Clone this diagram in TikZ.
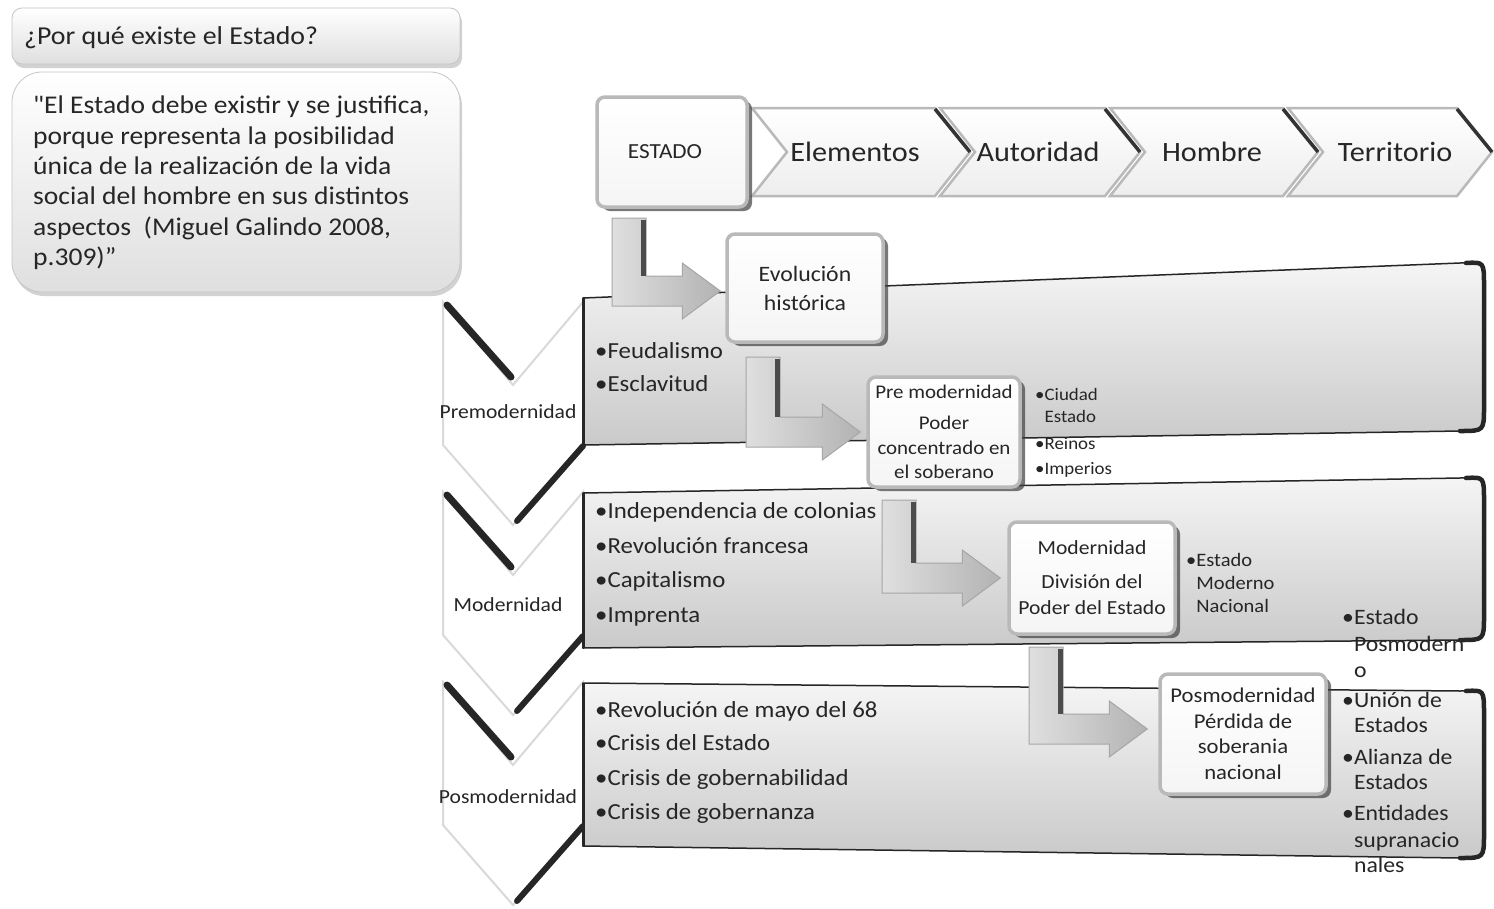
\documentclass[tikz,border=0pt]{standalone}
\usepackage{fontspec}
\setmainfont{Carlito}[FakeStretch=1.08]
\usetikzlibrary{shadows,calc}
\newcommand{\myfs}[2]{\fontsize{#1}{#2}\selectfont}
\newcommand{\bandshape}[4]{%
  \path[band] (583,#3) -- (583,#1) -- (1460,{#2+1}) .. controls (1484,#2) .. (1484,{#2+24}) -- (1484,{#4-24}) .. controls (1484,#4) .. (1460,#4) -- cycle;
  \draw[black!85, line width=4.5pt, line cap=round] (1466,{#2+1}) .. controls (1484,#2) .. (1484,{#2+24}) -- (1484,{#4-24}) .. controls (1484,#4) .. (1460,#4);
  \draw[black!85, line width=3pt] (583,#1) -- (583,#3);
}
\newcommand{\topchev}[2]{%
  \path[chev] (#1,108) -- ({#2-35},108) -- (#2,152) -- ({#2-35},196) -- (#1,196) -- ({#1+35},152) -- cycle;
  \draw[chevshade] ({#2-35},109) -- (#2,152);
}
\newcommand{\sidechev}[1]{%
  \path[sidechev] (443,#1) -- (513,{#1+83}) -- (583,#1) -- (583,{#1+143}) -- (513,{#1+223}) -- (443,{#1+143}) -- cycle;
  \draw[black!85, line width=7pt, line cap=round] (447,{#1+3}) -- (511,{#1+75});
  \draw[black!85, line width=6pt, line cap=round] (583,{#1+144}) -- (517,{#1+219});
}
\newcommand{\bentarrow}[2]{%
  \path[barrow] let \p1=(#1), \p2=(#2) in
    ({\x1-17pt},\y1) -- ({\x1+17pt},\y1) -- ({\x1+17pt},{\y2+15pt}) -- ({\x2-38pt},{\y2+15pt}) -- ({\x2-38pt},{\y2+28pt}) -- (\x2,\y2) -- ({\x2-38pt},{\y2-28pt}) -- ({\x2-38pt},{\y2-15pt}) -- ({\x1-17pt},{\y2-15pt}) -- cycle;
  \draw[black!70, line width=5pt] let \p1=(#1), \p2=(#2) in ({\x1+14pt},{\y1-2pt}) -- ({\x1+14pt},{\y2+15pt});
}
\begin{document}
\begin{tikzpicture}[x=1pt,y=-1pt,
  txt/.style={text=black!85, inner sep=0pt},
  qbox/.style={rounded corners=#1, top color=white, bottom color=gray!25, draw=gray!45, line width=0.8pt,
    drop shadow={shadow xshift=2pt, shadow yshift=-4pt, opacity=0.35}},
  box3d/.style={rounded corners=8pt, top color=white, bottom color=gray!8, draw=gray!55, line width=3.5pt,
    text=black!85, align=center, inner sep=0pt,
    drop shadow={shadow xshift=5pt, shadow yshift=-4pt, fill=black!75, opacity=0.7}},
  chev/.style={top color=white, bottom color=gray!14, draw=gray!55, line width=2.5pt, line join=miter},
  chevshade/.style={black!80, line width=3.5pt},
  sidechev/.style={fill=white, draw=gray!30, line width=2pt, line join=miter},
  band/.style={top color=gray!8, bottom color=gray!42, draw=black!85, line width=1.5pt},
  barrow/.style={left color=gray!25, right color=gray!60, draw=gray!70, line width=1pt},
  bandtxt/.style={txt, font=\myfs{23}{28}},
]
\useasboundingbox (0,0) rectangle (1494,908);
\fill[white] (0,0) rectangle (1494,908);

% top-left boxes
\path[qbox=10] (12,8) rectangle (460,64);
\node[txt, anchor=base west, font=\myfs{25.8}{28}] (q) at (24,44) {¿Por qué existe el Estado?};
\path[qbox=30] (12,72) rectangle (460,292);
\node[txt, anchor=north west, align=left, font=\myfs{25.5}{30.3}] (quote) at (33,96)
  {{\addfontfeatures{Ligatures=TeXOff}"}El Estado debe existir y se justifica,\\porque representa la posibilidad\\única de la realización de la vida\\social del hombre en sus distintos\\aspectos\ \ (Miguel Galindo 2008,\\p.309)”};

% side chevrons
\sidechev{302}
\sidechev{492}
\sidechev{682}
\node[txt, font=\myfs{20}{24}] (lpre) at (508,412) {Premodernidad};
\node[txt, font=\myfs{20}{24}] (lmod) at (508,605) {Modernidad};
\node[txt, font=\myfs{20}{24}] (lpos) at (508,797) {Posmodernidad};

% bands
\bandshape{298}{262}{445}{431}
\bandshape{493}{477}{648}{640}
\bandshape{683}{690}{846}{858}

% top row
\topchev{1288}{1492}
\topchev{1110}{1318}
\topchev{940}{1140}
\topchev{752}{970}
\node[box3d, minimum width=150pt, minimum height=110pt] (estado) at (672,152) {};
\node[txt, font=\myfs{21.5}{24}] (estadolbl) at (665,152) {ESTADO};
\node[txt, font=\myfs{28}{30}] (elem) at (855,152) {Elementos};
\node[txt, font=\myfs{28}{30}] (aut) at (1038,152) {Autoridad};
\node[txt, font=\myfs{28}{30}] (hom) at (1212,152) {Hombre};
\node[txt, font=\myfs{28}{30}] (ter) at (1395,152) {Territorio};

% band bullets
\node[bandtxt, anchor=base west] (b11) at (595,358) {•Feudalismo};
\node[bandtxt, anchor=base west] (b12) at (595,391) {•Esclavitud};
\node[bandtxt, anchor=base west] (b21) at (595,518) {•Independencia de colonias};
\node[bandtxt, anchor=base west] (b22) at (595,553) {•Revolución francesa};
\node[bandtxt, anchor=base west] (b23) at (595,587) {•Capitalismo};
\node[bandtxt, anchor=base west] (b24) at (595,622) {•Imprenta};
\node[bandtxt, anchor=base west] (b31) at (595,717) {•Revolución de mayo del 68};
\node[bandtxt, anchor=base west] (b32) at (595,750) {•Crisis del Estado};
\node[bandtxt, anchor=base west] (b33) at (595,785) {•Crisis de gobernabilidad};
\node[bandtxt, anchor=base west] (b34) at (595,819) {•Crisis de gobernanza};

% boxes
\node[box3d, minimum width=156pt, minimum height=108pt, font=\myfs{22}{29}] (evo) at (805,288) {Evolución\\histórica};
\node[box3d, minimum width=152pt, minimum height=110pt, font=\myfs{19.4}{24.5}] (premod) at (944,432) {Pre modernidad\\[7pt]Poder\\concentrado en\\el soberano};
\node[box3d, minimum width=166pt, minimum height=112pt, font=\myfs{20}{26}] (mod) at (1092,578) {Modernidad\\[8pt]División del\\Poder del Estado};
\node[box3d, minimum width=166pt, minimum height=120pt, font=\myfs{21}{25.5}] (posm) at (1243,734) {Posmodernidad\\Pérdida de\\soberania\\nacional};

% small bullets
\node[txt, anchor=base west, font=\myfs{17.5}{20}] (pm1) at (1035,400) {•Ciudad};
\node[txt, anchor=base west, font=\myfs{17.5}{20}] (pm2) at (1035,422) {\hphantom{•}Estado};
\node[txt, anchor=base west, font=\myfs{17.5}{20}] (pm3) at (1035,449) {•Reinos};
\node[txt, anchor=base west, font=\myfs{17.5}{20}] (pm4) at (1035,474) {•Imperios};
\node[txt, anchor=base west, font=\myfs{19}{22}] (md1) at (1186,566) {•Estado};
\node[txt, anchor=base west, font=\myfs{19}{22}] (md2) at (1186,589) {\hphantom{•}Moderno};
\node[txt, anchor=base west, font=\myfs{19}{22}] (md3) at (1186,612) {\hphantom{•}Nacional};
\node[txt, anchor=base west, font=\myfs{22}{24}] (ps1) at (1342,624) {•Estado};
\node[txt, anchor=base west, font=\myfs{22}{24}] (ps2) at (1342,651) {\hphantom{•}Posmodern};
\node[txt, anchor=base west, font=\myfs{22}{24}] (ps3) at (1342,677) {\hphantom{•}o};
\node[txt, anchor=base west, font=\myfs{22}{24}] (ps4) at (1342,707) {•Unión de};
\node[txt, anchor=base west, font=\myfs{22}{24}] (ps5) at (1342,732) {\hphantom{•}Estados};
\node[txt, anchor=base west, font=\myfs{22}{24}] (ps6) at (1342,764) {•Alianza de};
\node[txt, anchor=base west, font=\myfs{22}{24}] (ps7) at (1342,789) {\hphantom{•}Estados};
\node[txt, anchor=base west, font=\myfs{22}{24}] (ps8) at (1342,820) {•Entidades};
\node[txt, anchor=base west, font=\myfs{22}{24}] (ps9) at (1342,847) {\hphantom{•}supranacio};
\node[txt, anchor=base west, font=\myfs{22}{24}] (ps10) at (1342,872) {\hphantom{•}nales};

% bent arrows
\coordinate (a1s) at (629,218);
\coordinate (a1e) at ($(evo.west)+(-5,3)$);
\coordinate (a2s) at (763,357);
\coordinate (a2e) at ($(premod.west)+(-6,0)$);
\coordinate (a3s) at (899,500);
\coordinate (a3e) at ($(mod.west)+(-7,0)$);
\coordinate (a4s) at (1046,647);
\coordinate (a4e) at ($(posm.west)+(-11,-5)$);
\bentarrow{a1s}{a1e}
\bentarrow{a2s}{a2e}
\bentarrow{a3s}{a3e}
\bentarrow{a4s}{a4e}
\end{tikzpicture}
\end{document}
